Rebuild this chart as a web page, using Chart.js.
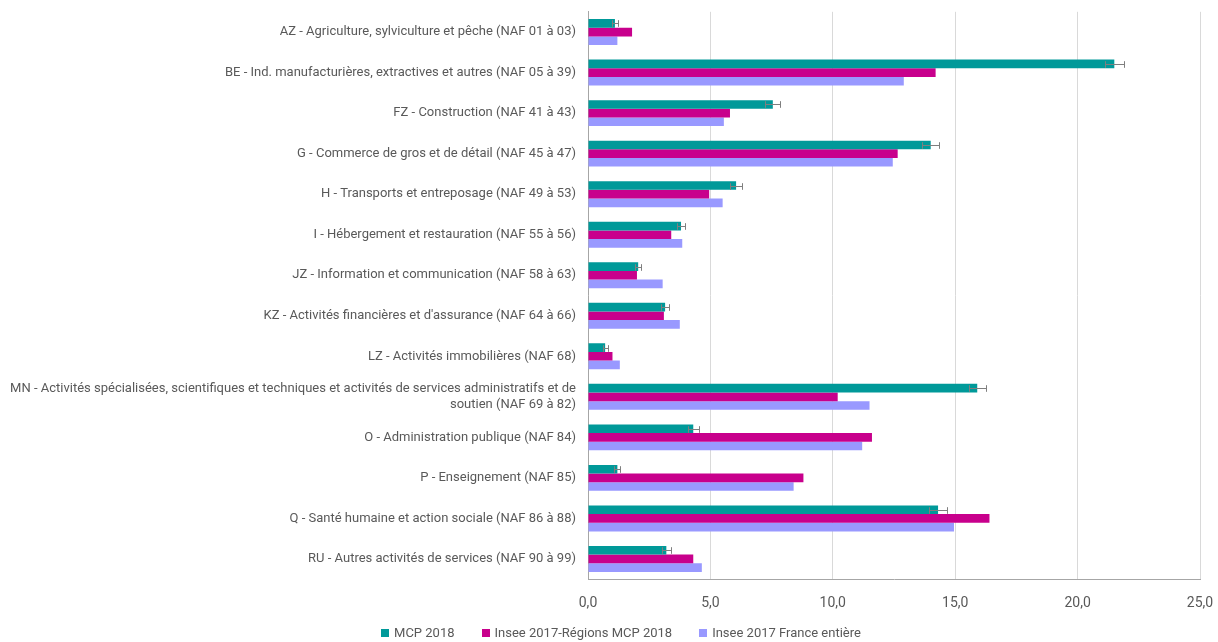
<!DOCTYPE html>
<html>
<head>
<meta charset="utf-8">
<script src="https://cdn.jsdelivr.net/npm/chart.js@4/dist/chart.umd.min.js"></script>
<style>
    html, body { margin: 0; padding: 0; background: #fff; overflow: hidden; }
    #wrap { position: absolute; left: 0; top: -8px; width: 1218px; height: 636px; }
    #legend {
        position: absolute; left: 12px; top: 625px; width: 1218px;
        display: flex; justify-content: center; gap: 27px;
        font: 13px Roboto, 'Open Sans', sans-serif; color: #595959; line-height: 16px;
    }
    #legend span.item { display: flex; align-items: center; }
    #legend i { display: inline-block; width: 8px; height: 8px; margin-right: 5px; }
</style>
</head>
<body>
<div id="wrap"><canvas id="chart"></canvas></div>
<div id="legend"></div>
<script>
// Secteurs NAF
const secteurs = [
    'AZ - Agriculture, sylviculture et pêche (NAF 01 à 03)',
    'BE - Ind. manufacturières, extractives et autres (NAF 05 à 39)',
    'FZ - Construction (NAF 41 à 43)',
    'G - Commerce de gros et de détail (NAF 45 à 47)',
    'H - Transports et entreposage (NAF 49 à 53)',
    'I - Hébergement et restauration (NAF 55 à 56)',
    'JZ - Information et communication (NAF 58 à 63)',
    'KZ - Activités financières et d\'assurance (NAF 64 à 66)',
    'LZ - Activités immobilières (NAF 68)',
    ['MN - Activités spécialisées, scientifiques et techniques et activités de services administratifs et de', 'soutien (NAF 69 à 82)'],
    'O - Administration publique (NAF 84)',
    'P - Enseignement (NAF 85)',
    'Q - Santé humaine et action sociale (NAF 86 à 88)',
    'RU - Autres activités de services (NAF 90 à 99)'
];

const mcp2018 = [1.1, 21.5, 7.55, 14.0, 6.05, 3.8, 2.05, 3.15, 0.7, 15.9, 4.3, 1.2, 14.3, 3.2];
const mcp2018Err = [0.12, 0.4, 0.3, 0.35, 0.24, 0.15, 0.12, 0.17, 0.1, 0.35, 0.22, 0.12, 0.35, 0.18];
const inseeRegions = [1.8, 14.2, 5.8, 12.65, 4.95, 3.4, 2.0, 3.1, 1.0, 10.2, 11.6, 8.8, 16.4, 4.3];
const inseeFrance = [1.2, 12.9, 5.55, 12.45, 5.5, 3.85, 3.05, 3.75, 1.3, 11.5, 11.2, 8.4, 14.95, 4.65];

const xTicks = [0, 5, 10, 15, 20, 25];

const textColor = '#595959';
const fontFamily = "Roboto, 'Open Sans', sans-serif";

// Barres d'erreur sur la série MCP 2018
const errorBars = {
    id: 'errorBars',
    afterDatasetsDraw(chart) {
        const meta = chart.getDatasetMeta(0);
        const xScale = chart.scales.x;
        const ctx = chart.ctx;
        ctx.save();
        ctx.strokeStyle = '#7f7f7f';
        ctx.lineWidth = 1;
        meta.data.forEach((bar, i) => {
            const v = mcp2018[i];
            const e = mcp2018Err[i];
            const x1 = Math.round(xScale.getPixelForValue(v - e)) + 0.5;
            const x2 = Math.round(xScale.getPixelForValue(v + e)) + 0.5;
            const y = Math.round(bar.y) + 0.5;
            const h = bar.height / 2 - 1;
            ctx.beginPath();
            ctx.moveTo(x1, y); ctx.lineTo(x2, y);
            ctx.moveTo(x1, y - h); ctx.lineTo(x1, y + h);
            ctx.moveTo(x2, y - h); ctx.lineTo(x2, y + h);
            ctx.stroke();
        });
        ctx.restore();
    }
};

const chart = new Chart(document.getElementById('chart').getContext('2d'), {
    type: 'bar',
    data: {
        labels: secteurs,
        datasets: [
            { label: 'MCP 2018', data: mcp2018, backgroundColor: '#009999' },
            { label: 'Insee 2017-Régions MCP 2018', data: inseeRegions, backgroundColor: '#C8008C' },
            { label: 'Insee 2017 France entière', data: inseeFrance, backgroundColor: '#9999FF' }
        ]
    },
    options: {
        indexAxis: 'y',
        responsive: true,
        maintainAspectRatio: false,
        animation: false,
        layout: { padding: { top: 0, right: 0, bottom: 0, left: 0 } },
        datasets: {
            bar: { categoryPercentage: 0.64, barPercentage: 1.0 }
        },
        scales: {
            x: {
                min: 0,
                max: 25,
                afterBuildTicks(scale) {
                    scale.ticks = xTicks.map(v => ({ value: v }));
                },
                afterFit(scale) { scale.paddingRight = 18; },
                ticks: {
                    color: textColor,
                    font: { family: fontFamily, size: 14 },
                    padding: 16,
                    callback: v => v.toFixed(1).replace('.', ',')
                },
                grid: { color: '#d9d9d9', drawTicks: false },
                border: { color: '#a6a6a6' }
            },
            y: {
                afterFit(scale) { scale.width = 588; },
                ticks: {
                    color: textColor,
                    font: { family: fontFamily, size: 13 },
                    padding: 12,
                    autoSkip: false
                },
                grid: { display: false, drawTicks: false },
                border: { color: '#a6a6a6' }
            }
        },
        plugins: {
            legend: { display: false },
            tooltip: { enabled: false }
        }
    },
    plugins: [errorBars]
});

// Légende HTML
document.getElementById('legend').innerHTML = chart.data.datasets.map(ds => `
    <span class="item"><i style="background:${ds.backgroundColor}"></i>${ds.label}</span>
`).join('');
</script>
</body>
</html>
